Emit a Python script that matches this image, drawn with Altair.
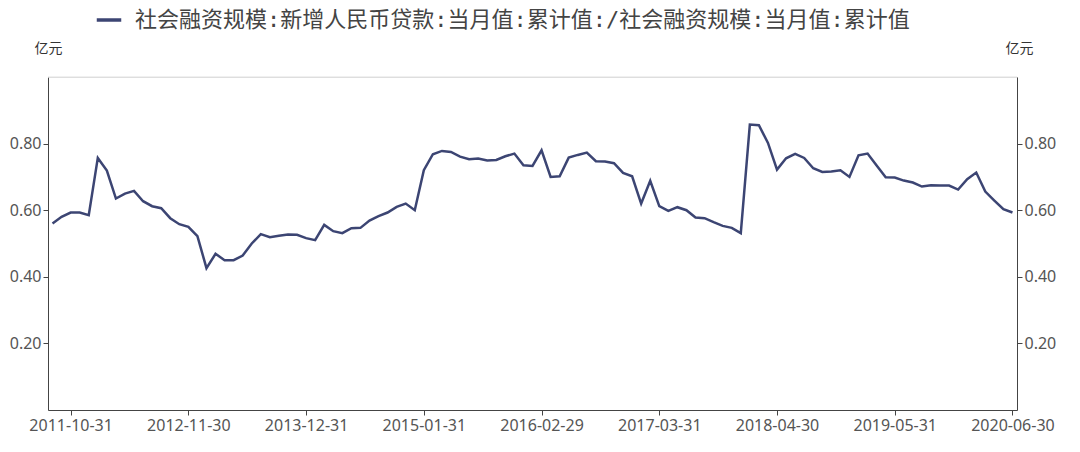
import altair as alt
import pandas as pd

series_name = "社会融资规模:新增人民币贷款:当月值:累计值:/社会融资规模:当月值:累计值"

# month-end dates 2011-08 .. 2020-06
dates = [d.strftime("%Y-%m-%d") for d in pd.date_range("2011-08-31", "2020-06-30", freq="ME")]

values = [
    0.560, 0.580, 0.593, 0.593, 0.585, 0.757, 0.719, 0.635, 0.650, 0.658,
    0.627, 0.612, 0.606, 0.576, 0.558, 0.550, 0.522, 0.426, 0.469, 0.450,
    0.450, 0.464, 0.500, 0.528, 0.519, 0.523, 0.527, 0.526, 0.516, 0.510,
    0.556, 0.537, 0.531, 0.546, 0.547, 0.569, 0.582, 0.593, 0.610, 0.620,
    0.600, 0.720, 0.768, 0.778, 0.775, 0.761, 0.753, 0.755, 0.749, 0.751,
    0.762, 0.770, 0.735, 0.733, 0.780, 0.700, 0.702, 0.758, 0.766, 0.773,
    0.747, 0.746, 0.741, 0.712, 0.702, 0.620, 0.688, 0.612, 0.598, 0.609,
    0.600, 0.578, 0.576, 0.564, 0.553, 0.547, 0.531, 0.857, 0.855, 0.802,
    0.722, 0.756, 0.769, 0.757, 0.726, 0.715, 0.716, 0.720, 0.700, 0.765,
    0.770, 0.734, 0.699, 0.698, 0.689, 0.683, 0.671, 0.675, 0.674, 0.674,
    0.662, 0.693, 0.713, 0.656, 0.629, 0.603, 0.593,
]

tick_dates = ["2011-10-31", "2012-11-30", "2013-12-31", "2015-01-31", "2016-02-29",
              "2017-03-31", "2018-04-30", "2019-05-31", "2020-06-30"]
y_ticks = [0.2, 0.4, 0.6, 0.8]

df = pd.DataFrame({"date": dates, "value": values, "series": series_name})

LINE = "#3c4573"
AXIS = "#444444"
LABEL = "#555555"
FONT = "Noto Sans"
LEGEND_FONT = "'DejaVu Sans Mono', 'Noto Sans CJK SC'"

x_enc = alt.X("date:O", sort=None,
              scale=alt.Scale(type="point", padding=0.5),
              axis=alt.Axis(values=tick_dates, labelAngle=0, title=None,
                            domainColor=AXIS, tickColor=AXIS, tickSize=5,
                            labelColor=LABEL, labelFontSize=16, labelFont=FONT,
                            labelPadding=2, grid=False))

y_scale = alt.Scale(domain=[0, 1.0], nice=False)

base = alt.Chart(df)

left = base.mark_line(strokeWidth=2.5).encode(
    x=x_enc,
    y=alt.Y("value:Q", scale=y_scale,
            axis=alt.Axis(values=y_ticks, format=".2f", title="亿元", titleAngle=0,
                          titleX=0, titleY=-29, titleAlign="center", titleBaseline="middle",
                          titleFont="Noto Sans CJK SC", titleFontSize=14, titleFontWeight="normal",
                          titleColor="#333333",
                          domainColor=AXIS, tickColor=AXIS, tickSize=5,
                          labelColor=LABEL, labelFontSize=16, labelFont=FONT, labelPadding=2,
                          gridColor="#e0e0e0", gridWidth=1)),
    color=alt.Color("series:N", scale=alt.Scale(range=[LINE]),
                    legend=alt.Legend(title=None, orient="none", legendX=47, legendY=-71,
                                      symbolType="stroke", symbolSize=600, symbolStrokeWidth=3.5,
                                      labelFont=LEGEND_FONT, labelFontSize=22,
                                      labelColor="#444444", labelLimit=1200, labelOffset=12)),
)

right = base.mark_line(opacity=0).encode(
    x=x_enc,
    y=alt.Y("value:Q", scale=y_scale,
            axis=alt.Axis(orient="right", values=y_ticks, format=".2f", title="亿元",
                          titleAngle=0, titleX=2, titleY=-29, titleAlign="center",
                          titleBaseline="middle", titleFont="Noto Sans CJK SC",
                          titleFontSize=14, titleFontWeight="normal", titleColor="#333333",
                          domainColor=AXIS, tickColor=AXIS, tickSize=5,
                          labelColor=LABEL, labelFontSize=16, labelFont=FONT, labelPadding=2,
                          grid=False)),
)

top_grid = alt.Chart(pd.DataFrame({"y": [1.0]})).mark_rule(color="#e0e0e0", strokeWidth=1).encode(
    y=alt.Y("y:Q", scale=y_scale, axis=None)
)

chart = alt.layer(top_grid, left, right).resolve_scale(y="independent").properties(
    width=969, height=333,
    autosize=alt.AutoSizeParams(type="none"),
    padding={"left": 40, "top": 69, "right": 55, "bottom": 34},
).configure_view(stroke=None).configure(background="white")

chart.save("out.html", embed_options={"renderer": "svg", "actions": False})
